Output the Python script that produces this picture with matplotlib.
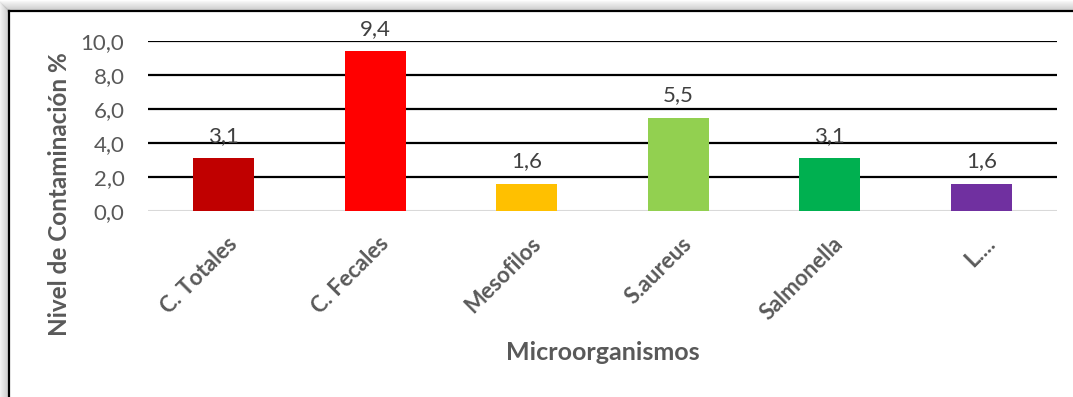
import numpy as np
import matplotlib
matplotlib.use("Agg")
from matplotlib import pyplot as plt
from matplotlib import transforms
from matplotlib.lines import Line2D

categories = ["C. Totales", "C. Fecales", "Mesofilos", "S.aureus", "Salmonella", "L...."]
contamination = [3.1, 9.4, 1.6, 5.5, 3.1, 1.6]
bar_colors = ["#C00000", "#FF0000", "#FFC000", "#92D050", "#00B050", "#7030A0"]
y_ticks = [0, 2, 4, 6, 8, 10]

plt.rcParams["font.family"] = ["Lato", "DejaVu Sans"]
text_gray = "#595959"

fig = plt.figure(figsize=(10.73, 3.97), dpi=100)
W, H = 1073, 397

# Outer frame with a soft shadow on the top and left edges
for k in range(10):
    a = 0.05 + 0.03 * k
    fig.add_artist(Line2D([(9 - 10 + k) / W, 1.0], [1 - (11 - 10 + k) / H] * 2,
                          color="gray", alpha=a, lw=1, transform=fig.transFigure))
    fig.add_artist(Line2D([(9 - 10 + k) / W] * 2, [0.0, 1 - (11 - 10 + k) / H],
                          color="gray", alpha=a, lw=1, transform=fig.transFigure))
fig.add_artist(Line2D([9 / W, 1.0], [1 - 11 / H] * 2, color="black", lw=1.6,
                      transform=fig.transFigure))
fig.add_artist(Line2D([9 / W] * 2, [0.0, 1 - 11 / H], color="black", lw=1.6,
                      transform=fig.transFigure))

ax = fig.add_axes([148 / W, 1 - 211 / H, (1057 - 148) / W, (211 - 41) / H])
x = np.arange(len(categories))
bars = ax.bar(x, contamination, width=0.40, color=bar_colors, zorder=3)

ax.set_ylim(0, 10)
ax.set_xlim(-0.5, len(categories) - 0.5)
ax.set_yticks(y_ticks)
ax.set_yticklabels([f"{v:.1f}".replace(".", ",") for v in y_ticks])
for t in y_ticks[1:]:
    ax.axhline(t, color="black", lw=1.6, zorder=1)
ax.axhline(0, color="#D9D9D9", lw=1.5, zorder=2)

for s in ax.spines.values():
    s.set_visible(False)
ax.tick_params(axis="y", length=0, pad=17, labelsize=16, labelcolor=text_gray)
ax.tick_params(axis="x", length=0)

# Value labels above each bar
for xi, v in zip(x, contamination):
    ax.annotate(f"{v:.1f}".replace(".", ","), (xi, v), xytext=(0, 9),
                textcoords="offset points", ha="center", va="bottom",
                fontsize=16, color="#404040", zorder=4)

ax.set_xticks(x)
ax.set_xticklabels(categories, rotation=45, ha="right", rotation_mode="anchor",
                   fontsize=16, fontweight="bold", color=text_gray)
offset = transforms.ScaledTranslation(3 / 100, -17 / 100, fig.dpi_scale_trans)
for lbl in ax.get_xticklabels():
    lbl.set_transform(lbl.get_transform() + offset)

# Axis titles
fig.text(60 / W, 1 - 194 / H, "Nivel de Contaminación %", rotation=90,
         ha="center", va="center", fontsize=17.5, fontweight="bold",
         color=text_gray)
ax.set_xlabel("Microorganismos", fontsize=18, fontweight="bold",
              color=text_gray)
ax.xaxis.set_label_coords(0.5, 1 - 352 / H,
                          transform=transforms.blended_transform_factory(ax.transAxes, fig.transFigure))
ax.xaxis.label.set_va("center")

fig.savefig("out.png", dpi=100)
